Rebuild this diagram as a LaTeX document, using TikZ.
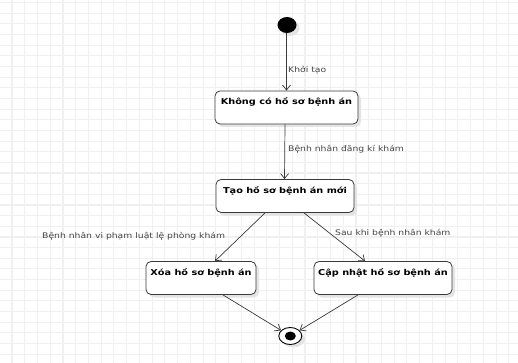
\documentclass[tikz,border=0pt]{standalone}
\usepackage{fontspec}
\setmainfont{DejaVu Sans}[FakeStretch=1.2]
\usetikzlibrary{arrows.meta,shapes.geometric,shadows,calc}

\definecolor{gridgray}{HTML}{F0F0F0}
\definecolor{linegray}{HTML}{3A3A3A}
\definecolor{labelgray}{HTML}{444444}
\definecolor{shadowgray}{HTML}{E4E4E4}

\tikzset{
  statebox/.style={draw=linegray, line width=0.8pt, rounded corners=5pt, fill=white,
    inner xsep=0pt, inner ysep=4pt, text height=10pt, text depth=15pt,
    font=\fontsize{8.1}{9.6}\selectfont\bfseries, text=black,
    drop shadow={shadow xshift=3pt, shadow yshift=-3pt, fill=shadowgray, opacity=1}},
  flow/.style={draw=linegray, line width=0.7pt, -{Straight Barb[length=5pt,width=8pt]}},
  edgetext/.style={font=\fontsize{7.7}{9}\selectfont, text=labelgray, inner sep=0pt},
  initstate/.style={ellipse, fill=black, minimum width=19pt, minimum height=16pt, inner sep=0pt,
    drop shadow={shadow xshift=3pt, shadow yshift=-3pt, fill=shadowgray, opacity=1}},
  finalring/.style={ellipse, draw=black, line width=0.9pt, fill=white, minimum width=23pt,
    minimum height=17pt, inner sep=0pt,
    drop shadow={shadow xshift=3pt, shadow yshift=-3pt, fill=shadowgray, opacity=1}},
  finaldot/.style={ellipse, fill=black, minimum width=11pt, minimum height=9pt, inner sep=0pt}
}

\begin{document}
\begin{tikzpicture}[x=1pt, y=-1pt]
  % canvas and background grid
  \fill[white] (0,0) rectangle (518,363);
  \useasboundingbox (0,0) rectangle (518,363);
  \foreach \k in {0,...,40} {
    \draw[gridgray, line width=1.1pt] ({12+12.74*\k},0) -- ({12+12.74*\k},363);
  }
  \foreach \k in {0,...,34} {
    \draw[gridgray, line width=1.1pt] (0,{2.65+10.65*\k}) -- (518,{2.65+10.65*\k});
  }

  % states
  \node[initstate] (start) at (287,25) {};
  \node[statebox, minimum width=143pt] (none) at (286.5,107.5) {Không có hồ sơ bệnh án};
  \node[statebox, minimum width=138pt] (create) at (285,196) {Tạo hồ sơ bệnh án mới};
  \node[statebox, minimum width=110pt] (delete) at (201,278) {Xóa hồ sơ bệnh án};
  \node[statebox, minimum width=138pt] (update) at (383,278) {Cập nhật hồ sơ bệnh án};
  \node[finalring] (finish) at (290.3,336) {};
  \node[finaldot] (finishdot) at (finish.center) {};

  % transitions
  \draw[flow] (start.south -| none.north) -- (none.north);
  \draw[flow] ([xshift=-1.5pt]none.south) -- ([xshift=-0.5pt]create.north);
  \draw[flow] ([xshift=-20pt]create.south) -- ([xshift=14pt]delete.north);
  \draw[flow] ([xshift=19pt]create.south) -- ([xshift=-18pt]update.north);
  \draw[flow] ([xshift=22pt]delete.south) -- (finish);
  \draw[flow] ([xshift=-25pt]update.south) -- (finish);

  % transition labels
  \node[edgetext, anchor=west] (l1) at (288,70) {Khởi tạo};
  \node[edgetext, anchor=west] (l2) at (288,149) {Bệnh nhân đăng kí khám};
  \node[edgetext, anchor=west] (l3) at (42,236) {Bệnh nhân vi phạm luật lệ phòng khám};
  \node[edgetext, anchor=west] (l4) at (335,233) {Sau khi bệnh nhân khám};
\end{tikzpicture}
\end{document}
